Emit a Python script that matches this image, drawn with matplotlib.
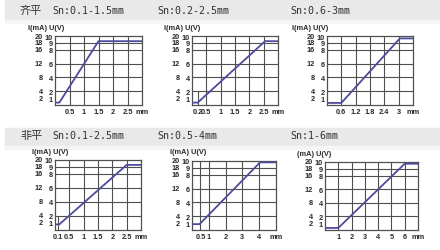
import matplotlib
matplotlib.use("Agg")
import matplotlib.pyplot as plt
from matplotlib.patches import Rectangle
from matplotlib.transforms import offset_copy

W, H = 440, 251

C_LINE = "#4d4b9b"
C_GRID = "#505050"
C_TEXT = "#2a2a2a"
C_BAND = "#e9e9e9"

ROW_TAGS = ["齐平", "非平"]
TITLES = ["Sn:0.1-1.5mm", "Sn:0.2-2.5mm", "Sn:0.6-3mm",
          "Sn:0.1-2.5mm", "Sn:0.5-4mm", "Sn:1-6mm"]
Y_HEADERS = ["I(mA) U(V)", "I(mA) U(V)", "I(mA) U(V)",
             "I(mA) U(V)", "I(mA) U(V)", "(mA) U(V)"]

I_TICKS = [2, 4, 8, 12, 16, 18, 20]
U_TICKS = [1, 2, 4, 6, 8, 9, 10]
I_GRID = [4, 8, 12, 16, 18]

X_MAX = [3, 3, 3.6, 3, 5, 7]
X_TICKS = [[0.5, 1, 1.5, 2, 2.5],
           [0.2, 0.5, 1, 1.5, 2, 2.5],
           [0.6, 1.2, 1.8, 2.4, 3],
           [0.1, 0.5, 1, 1.5, 2, 2.5],
           [0.5, 1, 2, 3, 4],
           [1, 2, 3, 4, 5, 6]]
X_LABELS = [["0.5", "1", "1.5", "2", "2.5"],
            ["0.2", "0.5", "1", "1.5", "2", "2.5"],
            ["0.6", "1.2", "1.8", "2.4", "3"],
            ["0.1", "0.5", "1", "1.5", "2", "2.5"],
            ["0.5", "1", "2", "3", "4"],
            ["1", "2", "3", "4", "5", "6"]]
SHORT_FIRST = [False, True, False, True, False, False]

CURVE_X = [[0, 0.15, 1.5, 3],
           [0, 0.2, 2.55, 3],
           [0, 0.6, 3.05, 3.6],
           [0, 0.15, 2.5, 3],
           [0, 0.45, 4.05, 5],
           [0, 1, 6, 7]]
CURVE_I = [[0.7, 0.7, 18.5, 18.5],
           [0.7, 0.7, 18.5, 18.5],
           [0.6, 0.6, 19.3, 19.3],
           [1.6, 1.6, 18.6, 18.6],
           [1.7, 1.7, 19.6, 19.6],
           [0.6, 0.6, 19.5, 19.5]]

# pixel boxes: left, top, right, bottom
BOXES = [(55, 37, 142, 106), (192, 37, 278, 106), (327, 37, 413, 106),
         (55, 161, 141, 231), (192, 162, 276, 231), (325, 163, 418, 231)]
HEADER_POS = [(28, 29), (164, 29), (292, 29), (32, 153), (170, 153), (297, 155)]
TITLE_X = [52, 157, 290]
TITLE_Y = [11, 136]
BANDS = [(0, 21), (129, 147)]

FS = 5.3
SMALL = dict(family="Liberation Sans", fontsize=FS, color=C_TEXT,
             fontweight="bold")

fig = plt.figure(figsize=(W / 100, H / 100), dpi=100)
fig.patch.set_facecolor("white")


def fx(x):
    return x / W


def fy(y):
    return 1 - y / H


for y0, y1 in BANDS:
    fig.patches.append(Rectangle((fx(5), fy(y1)), fx(435), (y1 - y0) / H,
                                 transform=fig.transFigure, color=C_BAND,
                                 zorder=0))
    fig.patches.append(Rectangle((fx(5), fy(y1 + 3)), fx(435), 3 / H,
                                 transform=fig.transFigure, color="#f5f5f5",
                                 zorder=0))

for r, tag in enumerate(ROW_TAGS):
    fig.text(fx(20), fy(TITLE_Y[r]), tag, family="Noto Sans CJK SC",
             fontsize=8, color="#333333", va="center", ha="left")

for i, title in enumerate(TITLES):
    fig.text(fx(TITLE_X[i % 3]), fy(TITLE_Y[i // 3]), title,
             family=["DejaVu Sans Mono", "Noto Sans CJK SC"], fontsize=7.2,
             color="#333333", va="center", ha="left")

for i, (l, t, rr, b) in enumerate(BOXES):
    ax = fig.add_axes([fx(l), fy(b), (rr - l) / W, (b - t) / H])
    ax.set_xlim(0, X_MAX[i])
    ax.set_ylim(0, 20)
    for sp in ax.spines.values():
        sp.set_color(C_GRID)
        sp.set_linewidth(0.9)

    for v in I_GRID:
        ax.axhline(v, color=C_GRID, lw=0.8, zorder=1)
    for k, v in enumerate(X_TICKS[i]):
        top = 0.2 if (k == 0 and SHORT_FIRST[i]) else 1
        ax.axvline(v, ymax=top, color=C_GRID, lw=0.8, zorder=1)

    ax.plot(CURVE_X[i], CURVE_I[i], color=C_LINE, lw=1.3, zorder=3,
            solid_capstyle="butt")

    ax.set_xticks(X_TICKS[i] + [X_MAX[i]])
    ax.set_xticklabels(X_LABELS[i] + ["mm"], **SMALL)
    ax.set_yticks(I_TICKS)
    ax.set_yticklabels([str(u) for u in U_TICKS], **SMALL)
    ax.tick_params(length=0, pad=1.5)
    ax.tick_params(axis="x", pad=2.5)

    tr = offset_copy(ax.get_yaxis_transform(), fig=fig, x=-12, y=0,
                     units="dots")
    for iv in I_TICKS:
        ax.text(0, iv, str(iv), transform=tr, ha="right", va="center",
                **SMALL)

    hx, hy = HEADER_POS[i]
    fig.text(fx(hx), fy(hy), Y_HEADERS[i], ha="left", va="center", **SMALL)

fig.savefig("out.png", dpi=100)
